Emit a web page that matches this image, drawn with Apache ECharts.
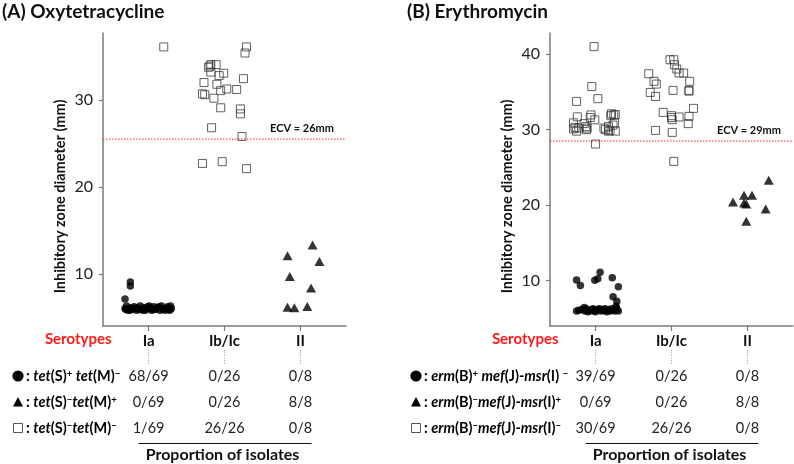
<!DOCTYPE html>
<html><head><meta charset="utf-8">
<script src="https://cdn.jsdelivr.net/npm/echarts@6/dist/echarts.min.js"></script>
<style>html,body{margin:0;padding:0;background:#fff}#c{width:794px;height:464px}</style>
</head><body><div id="c"></div>
<script>
// ---------- data ----------
const categories = ['Ia', 'Ib/Ic', 'II'];
const categoryPositions = [1, 2, 3];
const yTicksA = [10, 20, 30];
const yTicksB = [10, 20, 30, 40];
const ecvA = 25.5, ecvB = 28.5;
const ecvLabelA = 'ECV = 26mm', ecvLabelB = 'ECV = 29mm';
const titleA = '(A) Oxytetracycline', titleB = '(B) Erythromycin';
const yName = 'Inhibitory zone diameter (mm)';

// Panel A: oxytetracycline  [x position (jittered around category), zone diameter]
const oxyCircles = [
  [0.76, 9.05], [0.76, 8.6], [0.69, 7.1],
  [0.69, 6.0], [0.71, 6.3], [0.73, 5.8], [0.76, 6.1], [0.78, 5.9], [0.81, 6.2],
  [0.84, 5.8], [0.86, 6.1], [0.89, 6.3], [0.91, 5.9], [0.94, 6.1], [0.96, 5.8],
  [0.99, 6.2], [1.02, 6.0], [1.04, 5.8], [1.07, 6.2], [1.09, 5.9], [1.12, 6.1],
  [1.15, 5.8], [1.17, 6.3], [1.20, 6.0], [1.22, 5.8], [1.25, 6.2], [1.27, 5.9],
  [1.29, 6.3], [1.30, 6.0], [0.70, 5.9], [0.83, 6.0], [0.97, 6.0], [1.10, 6.0],
  [1.24, 6.0], [0.75, 5.8], [0.88, 5.9], [1.01, 6.3], [1.14, 6.2], [1.19, 5.9],
  [0.80, 6.0], [0.93, 5.8], [1.06, 5.9], [1.28, 5.8]
];
const oxyTriangles = [
  [3.16, 13.33], [2.83, 12.07], [3.25, 11.41], [2.86, 9.69],
  [3.14, 8.36], [2.83, 6.17], [2.92, 6.09], [3.09, 6.24]
];
const oxySquares = [
  [1.20, 36.1],
  [2.29, 36.1], [2.27, 35.4], [1.82, 34.06], [1.89, 34.06], [1.79, 33.76], [1.81, 33.9],
  [1.82, 33.2], [1.99, 33.07], [1.93, 32.8], [2.25, 32.45], [1.73, 32.0], [1.90, 31.8],
  [2.03, 31.26], [2.16, 31.2], [1.95, 31.07], [1.71, 30.7], [1.74, 30.6], [1.86, 30.2],
  [1.95, 29.1], [2.21, 28.97], [2.21, 28.4], [1.83, 26.8], [2.23, 25.8], [1.71, 22.7],
  [1.97, 22.9], [2.29, 22.1]
];

// Panel B: erythromycin
const eryCircles = [
  [0.75, 10.1], [0.80, 9.37], [1.06, 11.12], [0.99, 10.07], [1.03, 10.25], [1.22, 10.38],
  [1.30, 9.19], [1.23, 7.87], [1.28, 7.29], [1.27, 6.63], [0.85, 6.45],
  [0.75, 6.0], [0.78, 6.1], [0.82, 6.2], [0.86, 6.0], [0.89, 6.1], [0.92, 6.0],
  [0.95, 6.2], [0.98, 6.0], [1.01, 6.1], [1.04, 6.2], [1.07, 6.0], [1.10, 6.1],
  [1.13, 6.0], [1.16, 6.2], [1.19, 6.0], [1.22, 6.1], [1.25, 6.0], [1.28, 6.2],
  [1.30, 6.0], [0.88, 6.3], [0.97, 6.3], [1.05, 6.3], [1.12, 6.3], [1.21, 6.3],
  [0.90, 5.9], [1.00, 5.9], [1.15, 5.9], [1.27, 6.4]
];
const eryTriangles = [
  [2.81, 20.43], [2.955, 21.31], [3.06, 21.31], [2.955, 20.3],
  [2.985, 20.17], [2.985, 17.87], [3.28, 23.3], [3.24, 19.51]
];
const erySquares = [
  [0.98, 41.0], [0.95, 35.7], [0.75, 33.74], [1.03, 34.1], [0.71, 30.9], [0.76, 31.7],
  [0.94, 31.95], [0.99, 31.3], [0.85, 30.8], [0.71, 30.1], [0.75, 29.8], [0.88, 30.0],
  [0.89, 30.2], [1.11, 30.2], [1.17, 30.4], [1.20, 31.85], [1.26, 32.0], [1.24, 31.95],
  [1.25, 30.9], [1.17, 29.8], [1.26, 29.8], [1.00, 28.1], [0.73, 30.3], [0.87, 30.4],
  [0.93, 31.6], [1.21, 32.1], [1.23, 30.6], [1.19, 29.9], [0.78, 30.2], [1.13, 30.0],
  [1.98, 39.26], [2.03, 39.26], [2.04, 38.6], [2.07, 38.03], [2.10, 37.5], [2.16, 37.5],
  [1.70, 37.4], [2.24, 36.4], [1.77, 36.4], [1.80, 36.04], [2.02, 35.2], [2.23, 35.2],
  [2.23, 35.1], [1.72, 34.93], [1.79, 34.4], [2.29, 32.82], [1.89, 32.29], [2.00, 31.85],
  [2.10, 31.68], [2.01, 31.32], [2.23, 31.76], [2.22, 30.8], [1.79, 29.9], [2.01, 29.64],
  [2.03, 25.8], [2.00, 31.6]
];

// Table below the plots
const oxyRowLabels = [
  '{b|: }{i|tet}{b|(S)}{s|+}{b| }{i|tet}{b|(M)}{s|\u2212}',
  '{b|: }{i|tet}{b|(S)}{s|\u2212}{i|tet}{b|(M)}{s|+}',
  '{b|: }{i|tet}{b|(S)}{s|\u2212}{i|tet}{b|(M)}{s|\u2212}'
];
const eryRowLabels = [
  '{b|: }{i|erm}{b|(B)}{s|+}{b| }{i|mef}{b|(J)-}{i|msr}{b|(I) }{s|\u2212}',
  '{b|: }{i|erm}{b|(B)}{s|\u2212}{i|mef}{b|(J)-}{i|msr}{b|(I)}{s|+}',
  '{b|: }{i|erm}{b|(B)}{s|\u2212}{i|mef}{b|(J)-}{i|msr}{b|(I)}{s|\u2212}'
];
const oxyCounts = [['68/69', '0/26', '0/8'], ['0/69', '0/26', '8/8'], ['1/69', '26/26', '0/8']];
const eryCounts = [['39/69', '0/26', '0/8'], ['0/69', '0/26', '8/8'], ['30/69', '26/26', '0/8']];
const serotypesLabel = 'Serotypes';
const proportionLabel = 'Proportion of isolates';

// ---------- chart ----------
const FONT = 'Lato';
const axisGray = '#7a7a7a';
const ecvRed = '#ff2020';
const X_MIN = 0.4, X_MAX = 3.6;

function xAxisFor(g) {
  return {
    gridIndex: g, type: 'value', min: X_MIN, max: X_MAX,
    splitLine: { show: false },
    axisLine: { show: true, onZero: false, lineStyle: { color: axisGray, width: 1.5 } },
    axisTick: { show: true, customValues: categoryPositions, length: 5, lineStyle: { color: axisGray, width: 1.2 } },
    axisLabel: {
      customValues: categoryPositions, margin: 8,
      formatter: v => categories[categoryPositions.indexOf(Math.round(v))] || '',
      fontFamily: FONT, fontWeight: 'bold', fontSize: 15, color: '#111'
    }
  };
}
function yAxisFor(g, max, ticks) {
  return {
    gridIndex: g, type: 'value', min: 4, max: max,
    splitLine: { show: false },
    axisLine: { show: true, onZero: false, lineStyle: { color: axisGray, width: 1.5 } },
    axisTick: { show: true, customValues: ticks, length: 4, lineStyle: { color: axisGray, width: 1.2 } },
    axisLabel: { customValues: ticks, margin: 10, fontFamily: FONT, fontSize: 16, color: '#222' },
    name: yName, nameLocation: 'middle', nameGap: 35,
    nameTextStyle: { fontFamily: FONT, fontWeight: 'bold', fontSize: 14.5, color: '#111', padding: [0, 34, 0, 0] }
  };
}
function seriesFor(g, circles, triangles, squares) {
  return [
    {
      type: 'scatter', xAxisIndex: g, yAxisIndex: g, data: squares, symbol: 'rect', symbolSize: 8,
      itemStyle: { color: 'rgba(0,0,0,0)', borderColor: '#3a3a3a', borderWidth: 1 }
    },
    {
      type: 'scatter', xAxisIndex: g, yAxisIndex: g, data: circles, symbol: 'circle', symbolSize: 7.5,
      itemStyle: { color: '#000' }
    },
    {
      type: 'scatter', xAxisIndex: g, yAxisIndex: g, data: triangles, symbol: 'triangle', symbolSize: [10, 9],
      itemStyle: { color: '#000' }
    }
  ];
}

const chart = echarts.init(document.getElementById('c'));
chart.setOption({
  animation: false,
  backgroundColor: '#fff',
  grid: [
    { left: 103, right: 448, top: 33, bottom: 138 },
    { left: 550, right: 1, top: 33, bottom: 138 }
  ],
  xAxis: [xAxisFor(0), xAxisFor(1)],
  yAxis: [yAxisFor(0, 37.7, yTicksA), yAxisFor(1, 42.8, yTicksB)],
  series: [].concat(
    seriesFor(0, oxyCircles, oxyTriangles, oxySquares),
    seriesFor(1, eryCircles, eryTriangles, erySquares)
  )
});

// ---------- ECV lines, table / annotations positioned from the axes ----------
const rowY = [376, 402, 428];
const rich = {
  b: { fontFamily: FONT, fontWeight: 'bold', fontSize: 14.5, color: '#111' },
  i: { fontFamily: FONT, fontWeight: 'bold', fontStyle: 'italic', fontSize: 14.5, color: '#111' },
  s: { fontFamily: FONT, fontWeight: 'bold', fontSize: 9.5, color: '#111', verticalAlign: 'top' }
};
function panelGraphics(g, title, titleX, symX, labelX, rowLabels, counts, ecv, ecvLabel) {
  const toPx = (x, y) => chart.convertToPixel({ gridIndex: g }, [x, y]);
  const catX = categoryPositions.map(v => toPx(v, 10)[0]);
  const els = [];
  // ECV reference line, placed through the y scale
  const l = toPx(X_MIN, ecv), r = toPx(X_MAX, ecv);
  els.push({ type: 'line', z: 10, shape: { x1: l[0], y1: l[1], x2: r[0], y2: r[1] }, style: { stroke: ecvRed, lineWidth: 1, lineDash: [1.5, 1.5] } });
  els.push({ type: 'text', z: 10, x: r[0] - 12, y: l[1] - 5, style: { text: ecvLabel, align: 'right', verticalAlign: 'bottom', fontFamily: FONT, fontWeight: 'bold', fontSize: 11, fill: '#111' } });

  els.push({ type: 'text', left: titleX, top: 2, style: { text: title, fontFamily: FONT, fontWeight: 'bold', fontSize: 19, fill: '#111' } });
  els.push({ type: 'text', x: catX[0] - 37, y: 339.5, style: { text: serotypesLabel, align: 'right', verticalAlign: 'middle', fontFamily: FONT, fontWeight: 'bold', fontSize: 15, fill: '#ff1a1a' } });
  catX.forEach(cx => {
    els.push({ type: 'line', shape: { x1: cx, y1: 350, x2: cx, y2: 364 }, style: { stroke: '#9a9a9a', lineWidth: 1, lineDash: [1, 1.5] } });
  });
  // row symbols
  els.push({ type: 'circle', shape: { cx: symX, cy: rowY[0], r: 5.6 }, style: { fill: '#000' } });
  els.push({ type: 'polygon', shape: { points: [[symX - 5, rowY[1] + 4.5], [symX + 5, rowY[1] + 4.5], [symX, rowY[1] - 5]] }, style: { fill: '#000' } });
  els.push({ type: 'rect', shape: { x: symX - 4.5, y: rowY[2] - 4.5, width: 9, height: 9 }, style: { fill: 'none', stroke: '#555', lineWidth: 1 } });
  rowLabels.forEach((t, r) => {
    els.push({ type: 'text', x: labelX, y: rowY[r], style: { text: t, rich: rich, verticalAlign: 'middle', align: 'left' } });
    counts[r].forEach((c, k) => {
      els.push({ type: 'text', x: catX[k], y: rowY[r], style: { text: c, align: 'center', verticalAlign: 'middle', fontFamily: FONT, fontSize: 14.5, fill: '#222' } });
    });
  });
  els.push({ type: 'line', shape: { x1: catX[0] - 10, y1: 443.5, x2: catX[2] + 11, y2: 443.5 }, style: { stroke: '#111', lineWidth: 1 } });
  els.push({ type: 'text', x: catX[1] - 2, y: 455, style: { text: proportionLabel, align: 'center', verticalAlign: 'middle', fontFamily: FONT, fontWeight: 'bold', fontSize: 16, fill: '#111' } });
  return els;
}
chart.setOption({
  graphic: [].concat(
    panelGraphics(0, titleA, 2, 18, 26, oxyRowLabels, oxyCounts, ecvA, ecvLabelA),
    panelGraphics(1, titleB, 407, 416, 424, eryRowLabels, eryCounts, ecvB, ecvLabelB)
  )
});
</script>
</body></html>
